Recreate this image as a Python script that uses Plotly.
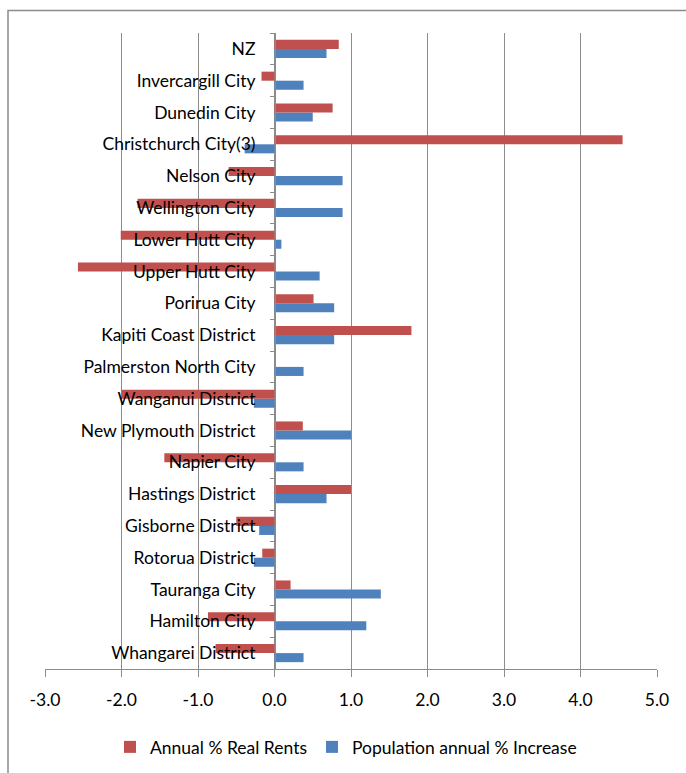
import plotly.graph_objects as go

categories = [
    "Whangarei District", "Hamilton City", "Tauranga City", "Rotorua District",
    "Gisborne District", "Hastings District", "Napier City", "New Plymouth District",
    "Wanganui District", "Palmerston North City", "Kapiti Coast District", "Porirua City",
    "Upper Hutt City", "Lower Hutt City", "Wellington City", "Nelson City",
    "Christchurch City(3)", "Dunedin City", "Invercargill City", "NZ",
]
real_rents = [
    -0.77, -0.87, 0.21, -0.16,
    -0.50, 1.00, -1.44, 0.37,
    -2.00, 0.0, 1.79, 0.51,
    -2.57, -2.01, -1.79, -0.60,
    4.55, 0.76, -0.17, 0.84,
]
pop_increase = [
    0.38, 1.20, 1.39, -0.27,
    -0.20, 0.68, 0.38, 1.00,
    -0.27, 0.38, 0.78, 0.78,
    0.59, 0.09, 0.89, 0.89,
    -0.39, 0.50, 0.38, 0.68,
]
x_ticks = [-3, -2, -1, 0, 1, 2, 3, 4, 5]
x_tick_labels = ["-3.0", "-2.0", "-1.0", "0.0", "1.0", "2.0", "3.0", "4.0", "5.0"]

W, H = 686, 773
L, R, T, B = 45, 29, 33, 104
FONT = "Lato, 'Open Sans', sans-serif"
GRID = "#8c8c8c"
FS = 17.5

fig = go.Figure()
fig.add_trace(go.Bar(
    y=categories, x=pop_increase, orientation="h",
    name="Population annual % Increase",
    marker=dict(color="#4F81BD", line=dict(width=0)),
))
fig.add_trace(go.Bar(
    y=categories, x=real_rents, orientation="h",
    name="Annual % Real Rents",
    marker=dict(color="#C0504D", line=dict(width=0)),
))

pw = W - L - R
ph = H - T - B

def px_x(p):
    return (p - L) / pw

def px_y(p):
    return 1 - (p - T) / ph

fig.update_layout(
    width=W, height=H,
    margin=dict(l=L, r=R, t=T, b=B, pad=0, autoexpand=False),
    paper_bgcolor="white", plot_bgcolor="white",
    barmode="group", bargap=0.43, bargroupgap=0,
    font=dict(family=FONT, size=FS, color="black"),
    showlegend=True,
    legend=dict(
        orientation="h", traceorder="reversed",
        x=px_x(346), xanchor="center", y=px_y(747), yanchor="middle",
        font=dict(size=FS), itemwidth=30,
    ),
    xaxis=dict(
        range=[-3, 5], tickvals=x_ticks, ticktext=x_tick_labels,
        showgrid=True, gridcolor=GRID, gridwidth=1,
        zeroline=False, showline=True, linecolor=GRID, linewidth=1,
        ticks="outside", ticklen=7, tickcolor=GRID, automargin=False,
        tickfont=dict(size=FS), ticklabelstandoff=8,
    ),
    yaxis=dict(
        anchor="free", position=px_x(275), side="left",
        showgrid=False, zeroline=False, automargin=False,
        showline=True, linecolor=GRID, linewidth=1,
        ticks="outside", ticklen=5, tickcolor=GRID, tickson="boundaries",
        tickfont=dict(size=FS), ticklabelstandoff=16,
        layer="above traces",
    ),
    shapes=[dict(
        type="rect", xref="paper", yref="paper",
        x0=px_x(8), x1=px_x(700), y0=px_y(800), y1=px_y(10.5),
        line=dict(color="#8c8c8c", width=1.5), fillcolor="rgba(0,0,0,0)",
        layer="below",
    )],
)

fig.write_html("out.html")
